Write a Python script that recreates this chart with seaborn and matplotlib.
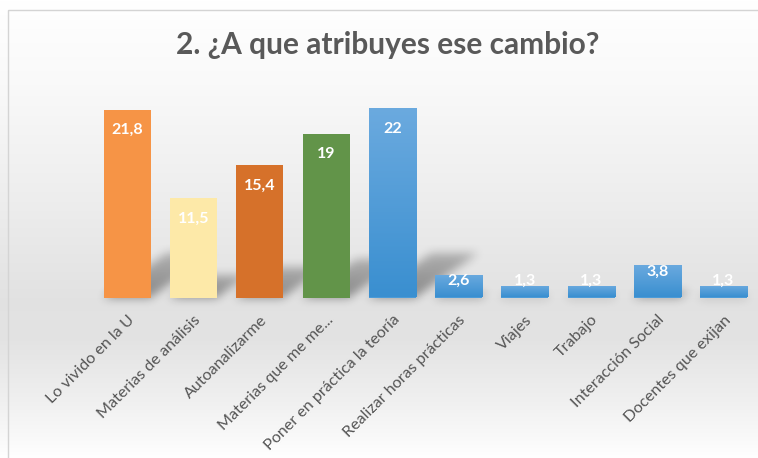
import numpy as np
import pandas as pd
import seaborn as sns
import matplotlib.pyplot as plt
from matplotlib.patches import Rectangle
from matplotlib.colors import LinearSegmentedColormap

categories = ["Lo vivido en la U", "Materias de análisis", "Autoanalizarme",
              "Materias que me me...", "Poner en práctica la teoría",
              "Realizar horas prácticas", "Viajes", "Trabajo",
              "Interacción Social", "Docentes que exijan"]
values = [21.8, 11.5, 15.4, 19, 22, 2.6, 1.3, 1.3, 3.8, 1.3]
value_labels = ["21,8", "11,5", "15,4", "19", "22", "2,6", "1,3", "1,3", "3,8", "1,3"]
colors = ["#F69446", "#FDE9A8", "#D6712A", "#629449", "#4B9BD8",
          "#4B9BD8", "#4B9BD8", "#4B9BD8", "#4B9BD8", "#4B9BD8"]

sns.set_style("white")
plt.rcParams["font.family"] = ["Lato", "DejaVu Sans"]

W, H = 758, 458
fig = plt.figure(figsize=(W / 100, H / 100), dpi=100)

# background with vertical grey gradient
bg = fig.add_axes([0, 0, 1, 1], zorder=0)
bg.set_xlim(0, W)
bg.set_ylim(H, 0)
bg.axis("off")
rows = np.arange(H)
stops_y = [0, 90, 200, 300, 340, 400, 445, 458]
stops_v = [1.0, 0.975, 0.93, 0.885, 0.89, 0.94, 0.985, 1.0]
shade = np.interp(rows, stops_y, stops_v)
grad = np.repeat(shade[:, None], W, axis=1)
bg.imshow(np.dstack([grad] * 3), extent=[0, W, H, 0], aspect="auto")
bg.add_patch(Rectangle((7.5, 9.5), W, H, fill=False, edgecolor="#D4D4D4", lw=1))

# main axes
left, right, base, top = 94.4, 756.6, 297.5, 82
ax = fig.add_axes([left / W, 1 - base / H, (right - left) / W, (base - top) / H], zorder=2)
ax.patch.set_alpha(0)
df = pd.DataFrame({"cat": categories, "val": values})
sns.barplot(data=df, x="cat", y="val", hue="cat", palette=colors, legend=False,
            width=0.71, saturation=1, linewidth=0, edgecolor="none", ax=ax, zorder=3)
ax.set_xlim(-0.5, len(categories) - 0.5)
ax.set_ylim(0, 25)
ax.set_yticks([])
ax.set_xlabel("")
ax.set_ylabel("")
sns.despine(ax=ax, left=True, bottom=True)
ax.tick_params(axis="x", length=0, pad=11)
ax.set_xticks(range(len(categories)))
ax.set_xticklabels(categories, rotation=45, ha="right", rotation_mode="anchor",
                   color="#555555", fontsize=11.6)

# gradient fill for the blue bars
blues = LinearSegmentedColormap.from_list("b", ["#3A8FD0", "#6BAADF"])
for i, p in enumerate(ax.patches):
    if i < 4:
        continue
    x0, w, h = p.get_x(), p.get_width(), p.get_height()
    g = np.linspace(0, 1, 100)[:, None]
    im = ax.imshow(g, cmap=blues, extent=[x0, x0 + w, 0, h], origin="lower",
                   aspect="auto", zorder=4)
    im.set_clip_path(p)
ax.set_xlim(-0.5, len(categories) - 0.5)
ax.set_ylim(0, 25)

# soft shadow behind bars
fig.canvas.draw()
mask = np.zeros((H, W))
for p in ax.patches:
    (px0, py0), (px1, py1) = ax.transData.transform(
        [(p.get_x(), 0), (p.get_x() + p.get_width(), p.get_height())])
    r0 = H - py0
    hpx = py1 - py0
    dy, dx = 0.24 * hpx, 0.34 * hpx
    for t in range(int(dy)):
        f = t / max(dy, 1)
        r = int(r0 - t)
        c0, c1 = max(int(px0 + f * dx), 0), min(int(px1 + f * dx), W)
        mask[r, c0:c1] = np.maximum(mask[r, c0:c1], 1 - 0.4 * f)
k = np.ones(9) / 9
for _ in range(3):
    mask = np.apply_along_axis(lambda m: np.convolve(m, k, mode="same"), 1, mask)
    mask = np.apply_along_axis(lambda m: np.convolve(m, k, mode="same"), 0, mask)
rgba = np.zeros((H, W, 4))
rgba[..., 3] = mask * 0.4
bg.imshow(rgba, extent=[0, W, H, 0], aspect="auto", zorder=1)

# value labels
for i, v in enumerate(values):
    y = v - 2.4 if v > 6 else max(v - 0.8, 1.9)
    ax.text(i, y, value_labels[i], ha="center", va="center", color="white",
            fontsize=11.5, fontweight="bold", zorder=6)

fig.text(388 / W, 1 - 45 / H, "2. ¿A que atribuyes ese cambio?", ha="center",
         va="center", fontsize=21.5, fontweight="bold", color="#595959")

fig.savefig("out.png", dpi=100)
